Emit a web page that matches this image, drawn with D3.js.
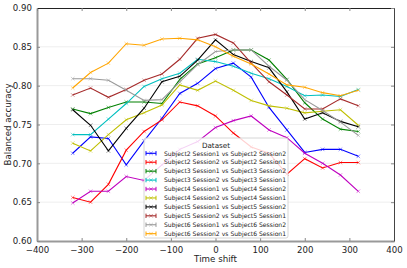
<!DOCTYPE html>
<html>
<head>
<meta charset="utf-8">
<script src="https://cdn.jsdelivr.net/npm/d3@7"></script>
<style>
  body { margin: 0; background: #fff; }
  text { font-family: "DejaVu Sans", sans-serif; }
</style>
</head>
<body>
<div id="chart"></div>
<script>
var svgWidth = 407;
var svgHeight = 268;

var margin = { top: 8, right: 13, bottom: 27, left: 37 };
var width = svgWidth - margin.left - margin.right;
var height = svgHeight - margin.top - margin.bottom;

// Time shifts and balanced accuracy per dataset
var shifts = [-320, -280, -240, -200, -160, -120, -80, -40, 0, 40, 80, 120, 160, 200, 240, 280, 320];

var s2s1 = [0.713, 0.734, 0.732, 0.698, 0.729, 0.758, 0.790, 0.803, 0.822, 0.829, 0.811, 0.772, 0.743, 0.714, 0.718, 0.718, 0.709];
var s2s2 = [0.656, 0.650, 0.673, 0.717, 0.741, 0.756, 0.779, 0.774, 0.761, 0.739, 0.721, 0.713, 0.686, 0.706, 0.694, 0.701, 0.701];
var s3s1 = [0.770, 0.764, 0.772, 0.779, 0.779, 0.777, 0.808, 0.828, 0.836, 0.846, 0.846, 0.833, 0.808, 0.778, 0.757, 0.744, 0.741];
var s3s2 = [0.737, 0.737, 0.757, 0.777, 0.799, 0.809, 0.816, 0.834, 0.831, 0.825, 0.816, 0.809, 0.799, 0.787, 0.788, 0.786, 0.795];
var s4s1 = [0.649, 0.664, 0.664, 0.683, 0.678, 0.698, 0.718, 0.728, 0.746, 0.755, 0.761, 0.743, 0.733, 0.713, 0.700, 0.685, 0.664];
var s4s2 = [0.726, 0.716, 0.737, 0.756, 0.765, 0.775, 0.801, 0.794, 0.806, 0.794, 0.781, 0.774, 0.771, 0.765, 0.767, 0.769, 0.749];
var s5s1 = [0.769, 0.749, 0.716, 0.745, 0.771, 0.805, 0.812, 0.833, 0.859, 0.840, 0.831, 0.823, 0.792, 0.757, 0.765, 0.754, 0.747];
var s5s2 = [0.788, 0.797, 0.785, 0.795, 0.807, 0.815, 0.834, 0.861, 0.866, 0.855, 0.829, 0.805, 0.788, 0.770, 0.770, 0.783, 0.774];
var s6s1 = [0.809, 0.809, 0.807, 0.794, 0.781, 0.782, 0.805, 0.827, 0.844, 0.846, 0.846, 0.825, 0.807, 0.782, 0.768, 0.753, 0.736];
var s6s2 = [0.797, 0.817, 0.829, 0.854, 0.852, 0.860, 0.861, 0.859, 0.850, 0.838, 0.828, 0.815, 0.801, 0.798, 0.791, 0.787, 0.794];

var labels = [
  "Subject2 Session1 vs Subject2 Session2",
  "Subject2 Session2 vs Subject2 Session1",
  "Subject3 Session1 vs Subject3 Session2",
  "Subject3 Session2 vs Subject3 Session1",
  "Subject4 Session1 vs Subject4 Session2",
  "Subject4 Session2 vs Subject4 Session1",
  "Subject5 Session1 vs Subject5 Session2",
  "Subject5 Session2 vs Subject5 Session1",
  "Subject6 Session1 vs Subject6 Session2",
  "Subject6 Session2 vs Subject6 Session1"
];
var colors = ["#0000ff", "#ff0000", "#008000", "#00bfbf", "#bf00bf", "#bfbf00", "#000000", "#a52a2a", "#999999", "#ffa500"];

var xTicks = [-400, -300, -200, -100, 0, 100, 200, 300, 400];
var yTicks = [0.60, 0.65, 0.70, 0.75, 0.80, 0.85, 0.90];

var series = [s2s1, s2s2, s3s1, s3s2, s4s1, s4s2, s5s1, s5s2, s6s1, s6s2].map(function(vals, i) {
  return { label: labels[i], color: colors[i], points: vals.map(function(v, j) { return [shifts[j], v]; }) };
});

var svg = d3.select("#chart")
  .append("svg")
  .attr("width", svgWidth)
  .attr("height", svgHeight);

var chartGroup = svg.append("g")
  .attr("transform", `translate(${margin.left}, ${margin.top})`);

var xScale = d3.scaleLinear().domain([-400, 400]).range([0, width]);
var yScale = d3.scaleLinear().domain([0.60, 0.90]).range([height, 0]);

var fmtX = function(d) { return d < 0 ? "\u2212" + Math.abs(d) : String(d); };
var fmtY = d3.format(".2f");

// horizontal grid
chartGroup.append("g")
  .selectAll("line")
  .data(yTicks.slice(1, -1))
  .enter()
  .append("line")
  .attr("x1", 0)
  .attr("x2", width)
  .attr("y1", d => yScale(d))
  .attr("y2", d => yScale(d))
  .attr("stroke", "#eeeeee")
  .attr("stroke-width", 1);

// axes (ticks inward)
var bottomAxis = d3.axisBottom(xScale).tickValues(xTicks).tickFormat(fmtX).tickSizeInner(-3).tickSizeOuter(0).tickPadding(6);
var leftAxis = d3.axisLeft(yScale).tickValues(yTicks).tickFormat(fmtY).tickSizeInner(-3).tickSizeOuter(0).tickPadding(5);
var topAxis = d3.axisTop(xScale).tickValues(xTicks).tickFormat("").tickSizeInner(-3).tickSizeOuter(0);
var rightAxis = d3.axisRight(yScale).tickValues(yTicks).tickFormat("").tickSizeInner(-3).tickSizeOuter(0);

var xAxis = chartGroup.append("g")
  .attr("transform", `translate(0, ${height})`)
  .call(bottomAxis);
var yAxis = chartGroup.append("g").call(leftAxis);
var tAxis = chartGroup.append("g").call(topAxis);
var rAxis = chartGroup.append("g").attr("transform", `translate(${width}, 0)`).call(rightAxis);

[xAxis, yAxis, tAxis, rAxis].forEach(function(ax) {
  ax.selectAll("text").attr("font-size", "8.6px").attr("fill", "#222");
  ax.selectAll(".tick line").attr("stroke", "#888");
});
xAxis.select(".domain").attr("stroke", "#999").attr("stroke-width", 2);
yAxis.select(".domain").attr("stroke", "#999").attr("stroke-width", 2);
tAxis.select(".domain").attr("stroke", "#222").attr("stroke-width", 1);
rAxis.select(".domain").attr("stroke", "#444").attr("stroke-width", 1);

// lines
var line = d3.line()
  .x(d => xScale(d[0]))
  .y(d => yScale(d[1]));

var seriesGroups = chartGroup.selectAll(".series")
  .data(series)
  .enter()
  .append("g")
  .attr("class", "series");

seriesGroups.append("path")
  .attr("d", d => line(d.points))
  .attr("fill", "none")
  .attr("stroke", d => d.color)
  .attr("stroke-width", 1.1);

// x markers
var m = 1.8;
seriesGroups.each(function(s) {
  d3.select(this).selectAll("path.mk")
    .data(s.points)
    .enter()
    .append("path")
    .attr("class", "mk")
    .attr("d", function(d) {
      var x = xScale(d[0]), y = yScale(d[1]);
      return `M${x - m},${y - m}L${x + m},${y + m}M${x - m},${y + m}L${x + m},${y - m}`;
    })
    .attr("stroke", s.color)
    .attr("stroke-opacity", 0.55)
    .attr("stroke-width", 0.8);
});

// legend
var legend = svg.append("g").attr("transform", "translate(144, 138)");
legend.append("rect")
  .attr("width", 144)
  .attr("height", 100)
  .attr("rx", 2)
  .attr("fill", "#ffffff")
  .attr("fill-opacity", 0.82)
  .attr("stroke", "#cccccc")
  .attr("stroke-width", 0.8);
legend.append("text")
  .attr("x", 72)
  .attr("y", 9.5)
  .attr("text-anchor", "middle")
  .attr("font-size", "7.2px")
  .attr("fill", "#222")
  .text("Dataset");

var rows = legend.selectAll(".row")
  .data(series)
  .enter()
  .append("g")
  .attr("class", "row")
  .attr("transform", (d, i) => `translate(0, ${15.3 + i * 8.93})`);

rows.append("line")
  .attr("x1", 2).attr("x2", 12).attr("y1", 0).attr("y2", 0)
  .attr("stroke", d => d.color).attr("stroke-width", 1.1);
rows.append("line")
  .attr("x1", 2).attr("x2", 2).attr("y1", -2.2).attr("y2", 2.2)
  .attr("stroke", d => d.color).attr("stroke-width", 1);
rows.append("line")
  .attr("x1", 12).attr("x2", 12).attr("y1", -2.2).attr("y2", 2.2)
  .attr("stroke", d => d.color).attr("stroke-width", 1);
rows.append("path")
  .attr("d", `M${7 - m},${-m}L${7 + m},${m}M${7 - m},${m}L${7 + m},${-m}`)
  .attr("stroke", d => d.color)
  .attr("stroke-opacity", 0.6)
  .attr("stroke-width", 0.8);
rows.append("text")
  .attr("x", 20)
  .attr("y", 2.2)
  .attr("font-size", "6.1px")
  .attr("fill", "#222")
  .text(d => d.label);

// axis labels
svg.append("text")
  .attr("x", margin.left + width / 2)
  .attr("y", 262)
  .attr("text-anchor", "middle")
  .attr("font-size", "8.7px")
  .attr("fill", "#222")
  .text("Time shift");

svg.append("text")
  .attr("transform", `translate(10.5, ${margin.top + height / 2}) rotate(-90)`)
  .attr("text-anchor", "middle")
  .attr("font-size", "8.7px")
  .attr("fill", "#222")
  .text("Balanced accuracy");
</script>
</body>
</html>
